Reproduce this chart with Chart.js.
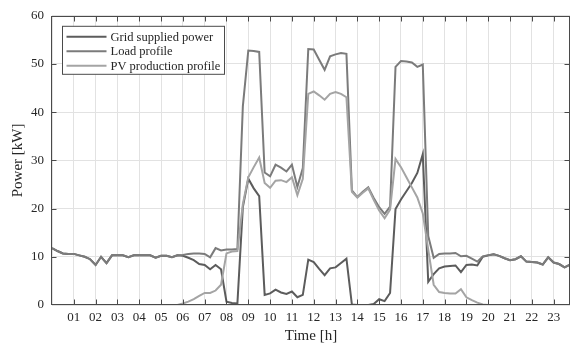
<!DOCTYPE html>
<html><head><meta charset="utf-8">
<script src="https://cdn.jsdelivr.net/npm/chart.js@4.4.1/dist/chart.umd.min.js"></script>
<style>html,body{margin:0;padding:0;background:#fff;}canvas{display:block;}</style>
</head><body>
<canvas id="c" width="573" height="347"></canvas>
<script>
// ---- data (15-minute samples, hours) ----
const timeH = [
 0.00,0.25,0.50,0.75, 1.00,1.25,1.50,1.75, 2.00,2.25,2.50,2.75, 3.00,3.25,3.50,3.75,
 4.00,4.25,4.50,4.75, 5.00,5.25,5.50,5.75, 6.00,6.25,6.50,6.75, 7.00,7.25,7.50,7.75,
 8.00,8.25,8.50,8.75, 9.00,9.25,9.50,9.75, 10.00,10.25,10.50,10.75, 11.00,11.25,11.50,11.75,
 12.00,12.25,12.50,12.75, 13.00,13.25,13.50,13.75, 14.00,14.25,14.50,14.75, 15.00,15.25,15.50,15.75,
 16.00,16.25,16.50,16.75, 17.00,17.25,17.50,17.75, 18.00,18.25,18.50,18.75, 19.00,19.25,19.50,19.75,
 20.00,20.25,20.50,20.75, 21.00,21.25,21.50,21.75, 22.00,22.25,22.50,22.75, 23.00,23.25,23.50,23.75
];
const gridPower = [
 11.8,11.2,10.7,10.6, 10.6,10.3,10.0,9.5, 8.3,10.0,8.7,10.3, 10.3,10.3,9.9,10.3,
 10.3,10.3,10.3,9.8, 10.2,10.2,9.9,10.3, 10.2,9.8,9.3,8.5, 8.3,7.4,8.3,7.4,
 0.7,0.4,0.3,20.3, 26.2,24.2,22.6,2.1, 2.4,3.2,2.6,2.3, 2.8,1.6,2.1,9.4,
 8.9,7.5,6.2,7.6, 7.8,8.7,9.6,0.1, 0.0,0.0,0.0,0.2, 1.2,0.8,2.5,19.9,
 21.9,23.6,25.3,27.4, 31.3,4.8,6.4,7.6, 8.0,8.1,8.2,6.8, 8.3,8.4,8.2,10.0,
 10.3,10.5,10.2,9.7, 9.3,9.5,10.1,9.0, 8.9,8.8,8.4,9.9, 8.8,8.5,7.8,8.4
];
const loadProfile = [
 11.8,11.2,10.7,10.6, 10.6,10.3,10.0,9.5, 8.3,10.0,8.7,10.3, 10.3,10.3,9.9,10.3,
 10.3,10.3,10.3,9.8, 10.2,10.2,9.9,10.3, 10.4,10.6,10.7,10.7, 10.6,9.9,11.8,11.3,
 11.5,11.5,11.6,41.2, 52.8,52.7,52.5,27.5, 26.7,29.1,28.5,27.7, 29.1,24.5,28.4,53.1,
 53.0,50.9,48.8,51.6, 52.0,52.3,52.1,23.8, 22.4,23.5,24.4,22.2, 20.3,18.9,20.4,49.4,
 50.6,50.5,50.3,49.4, 49.9,14.3,9.8,10.6, 10.7,10.7,10.8,10.1, 10.2,9.6,9.0,10.1,
 10.3,10.5,10.2,9.7, 9.3,9.5,10.1,9.0, 8.9,8.8,8.4,9.9, 8.8,8.5,7.8,8.4
];
const pvProduction = [
 0,0,0,0, 0,0,0,0, 0,0,0,0, 0,0,0,0,
 0,0,0,0, 0,0,0,0, 0.3,0.7,1.2,1.9, 2.5,2.5,3.0,4.2,
 10.7,11.1,11.2,20.9, 26.5,28.6,30.6,25.3, 24.3,25.8,25.9,25.5, 26.5,22.8,26.2,43.8,
 44.3,43.5,42.6,43.8, 44.2,43.8,43.1,23.5, 22.3,23.3,24.2,21.8, 19.6,18.0,19.8,30.3,
 28.6,26.5,24.4,22.3, 19.0,11.5,4.2,2.7, 2.5,2.4,2.4,3.3, 1.6,1.0,0.5,0.1,
 0,0,0,0, 0,0,0,0, 0,0,0,0, 0,0,0,0
];
const seriesNames = ['Grid supplied power','Load profile','PV production profile'];
const xTickLabels = ['01','02','03','04','05','06','07','08','09','10','11','12',
                     '13','14','15','16','17','18','19','20','21','22','23'];
const yTickLabels = ['0','10','20','30','40','50','60'];

const SERIF = '"Liberation Serif","Times New Roman",serif';
const toXY = arr => arr.map((v, i) => ({x: timeH[i], y: v}));

const framePlugin = {
  id: 'frame',
  afterDatasetsDraw(chart) {
    const {ctx, chartArea: a, scales: {x, y}} = chart;
    ctx.save();
    ctx.strokeStyle = '#4a4a4a';
    ctx.lineWidth = 1;
    const L = Math.round(a.left) - 0.5, R = Math.round(a.right) - 0.5;
    const T = Math.round(a.top) + 0.5, B = Math.round(a.bottom) - 0.5;
    ctx.strokeRect(L, T, R - L, B - T);
    const tl = 5;
    ctx.beginPath();
    x.ticks.forEach(t => {
      if (t.value <= 0 || t.value >= x.max) return;
      const px = Math.round(x.getPixelForValue(t.value)) + 0.5;
      ctx.moveTo(px, B); ctx.lineTo(px, B - tl);
      ctx.moveTo(px, T); ctx.lineTo(px, T + tl);
    });
    y.ticks.forEach(t => {
      if (t.value <= y.min || t.value >= y.max) return;
      const py = Math.round(y.getPixelForValue(t.value)) + 0.5;
      ctx.moveTo(L, py); ctx.lineTo(L + tl, py);
      ctx.moveTo(R, py); ctx.lineTo(R - tl, py);
    });
    ctx.stroke();

    // legend box (inside plot, top-left)
    const bx = a.left + 10.5, by = a.top + 10.5, bw = 162, bh = 48;
    ctx.fillStyle = '#ffffff';
    ctx.fillRect(bx, by, bw, bh);
    ctx.strokeStyle = '#4a4a4a';
    ctx.strokeRect(bx, by, bw, bh);
    ctx.font = '12.5px ' + SERIF;
    ctx.textBaseline = 'middle';
    ctx.textAlign = 'left';
    chart.data.datasets.forEach((ds, i) => {
      const ry = by + 10.5 + i * 14.5;
      ctx.strokeStyle = ds.borderColor;
      ctx.lineWidth = 2;
      ctx.beginPath();
      ctx.moveTo(bx + 4, ry); ctx.lineTo(bx + 44, ry);
      ctx.stroke();
      ctx.fillStyle = '#262626';
      ctx.fillText(ds.label, bx + 48, ry + 0.5);
    });
    ctx.restore();
  }
};

new Chart(document.getElementById('c').getContext('2d'), {
  type: 'line',
  data: {
    datasets: [
      {label: seriesNames[0], data: toXY(gridPower), borderColor: '#5c5c5c', order: 3},
      {label: seriesNames[1], data: toXY(loadProfile), borderColor: '#7b7b7b', order: 2},
      {label: seriesNames[2], data: toXY(pvProduction), borderColor: '#a4a4a4', order: 1}
    ].map(d => Object.assign(d, {borderWidth: 2, pointRadius: 0, tension: 0, fill: false}))
  },
  options: {
    responsive: false,
    animation: false,
    devicePixelRatio: 1,
    layout: {padding: {top: 13, right: 3, left: 0, bottom: 0}},
    plugins: {legend: {display: false}, tooltip: {enabled: false}},
    scales: {
      x: {
        type: 'linear', min: 0, max: 23.75,
        afterFit(s) { s.height = 42; },
        afterBuildTicks(s) { s.ticks = [0].concat(xTickLabels.map((_, i) => i + 1)).map(v => ({value: v})); },
        ticks: {
          autoSkip: false, maxRotation: 0, padding: 5, color: '#262626',
          font: {family: SERIF, size: 13},
          callback: v => (v >= 1 && v <= xTickLabels.length) ? xTickLabels[v - 1] : ''
        },
        grid: {color: '#e2e2e2', drawTicks: false, lineWidth: 1},
        border: {display: false},
        title: {display: true, text: 'Time [h]', color: '#262626',
                font: {family: SERIF, size: 15}, padding: {top: 0, bottom: 2}}
      },
      y: {
        type: 'linear', min: 0, max: 60,
        afterFit(s) { s.width = 52; },
        ticks: {
          stepSize: 10, padding: 8, color: '#262626',
          font: {family: SERIF, size: 13},
          callback: v => yTickLabels[Math.round(v / 10)]
        },
        grid: {color: '#e2e2e2', drawTicks: false, lineWidth: 1},
        border: {display: false},
        title: {display: true, text: 'Power [kW]', color: '#262626',
                font: {family: SERIF, size: 15}, padding: {top: 9, bottom: 0}}
      }
    }
  },
  plugins: [framePlugin]
});
</script>
</body></html>
